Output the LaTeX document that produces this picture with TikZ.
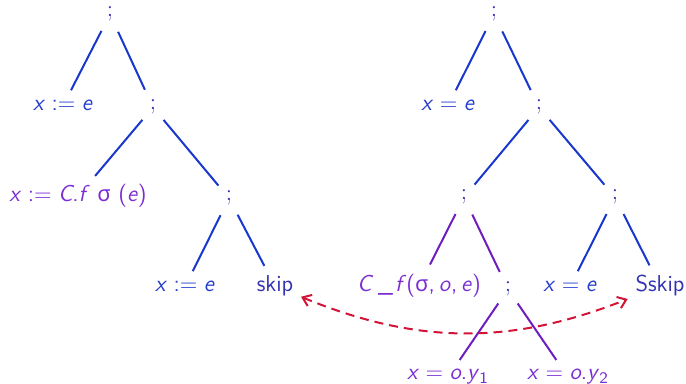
\documentclass[tikz,border=0pt]{standalone}
\usepackage{fontspec}
\usetikzlibrary{arrows.meta}
\newfontfamily\grk{Noto Sans}[Scale=0.95]
\definecolor{lineblue}{RGB}{25,55,205}
\definecolor{txtblue}{RGB}{35,60,205}
\definecolor{struct}{RGB}{51,51,178}
\definecolor{txtpurple}{RGB}{122,45,210}
\definecolor{linepurple}{RGB}{110,30,190}
\definecolor{arrred}{RGB}{210,20,55}
\newcommand\rl[1]{\hspace{0.28em}#1\hspace{0.28em}}
\newcommand\vi[1]{\textit{#1}}
\newcommand\sg{{\grk σ}}
\newcommand\cm{,\hspace{0.17em}}
\begin{document}
\begin{tikzpicture}[x=0.5pt,y=-0.5pt,
  every node/.style={font=\fontsize{11.5}{14}\selectfont\sffamily, inner sep=0pt, anchor=base},
  semi/.style={text=struct, font=\fontsize{11.5}{14}\selectfont\rmfamily},
  bl/.style={text=txtblue},
  st/.style={text=struct},
  pu/.style={text=txtpurple},
  eb/.style={draw=lineblue, line width=1pt, shorten <=5.5pt, shorten >=5.5pt},
  ep/.style={draw=linepurple, line width=1pt, shorten <=5.5pt, shorten >=5.5pt},
  link/.style={draw=arrred, line width=1pt, dash pattern=on 4.5pt off 3pt, {Straight Barb[length=4pt,width=6pt]}-{Straight Barb[length=4pt,width=6pt]}, shorten <=4pt, shorten >=4pt}
]
\useasboundingbox (0,0) rectangle (686,384);
% left tree
\node[semi] (L0) at (110,17) {;};
\node[bl] (L1a) at (63,111) {\vi{x}\rl{:=}\vi{e}};
\node[semi] (L1b) at (153,110) {;};
\node[pu] (L2a) at (78,202) {\vi{x}\rl{:=}\vi{C}.\vi{f}\ \sg\ (\vi{e})};
\node[semi] (L2b) at (229,201) {;};
\node[bl] (L3a) at (185,292) {\vi{x}\rl{:=}\vi{e}};
\node[st] (L3b) at (275,292) {skip};
% right tree
\node[semi] (R0) at (494,17) {;};
\node[bl] (R1a) at (448,111) {\vi{x}\rl{=}\vi{e}};
\node[semi] (R1b) at (539,110) {;};
\node[semi] (R2a) at (464,200) {;};
\node[semi] (R2b) at (615,200) {;};
\node[pu] (R3a) at (419,292) {\vi{C}\hspace{0.2em}\_\hspace{0.1em}\vi{f}(\sg\cm\vi{o}\cm\vi{e})};
\node[semi] (R3b) at (508,292) {;};
\node[bl] (R3c) at (570,292) {\vi{x}\rl{=}\vi{e}};
\node[st] (R3d) at (660,292) {Sskip};
\node[pu] (R4a) at (448,380) {\vi{x}\rl{=}\vi{o}.\vi{y}\textsubscript{1}};
\node[pu] (R4b) at (568,380) {\vi{x}\rl{=}\vi{o}.\vi{y}\textsubscript{2}};
% edges
\path[eb] (L0) -- (L1a);
\path[eb] (L0) -- (L1b);
\path[eb] (L1b) -- (L2a);
\path[eb] (L1b) -- (L2b);
\path[eb] (L2b) -- (L3a);
\path[eb] (L2b) -- (L3b);
\path[eb] (R0) -- (R1a);
\path[eb] (R0) -- (R1b);
\path[eb] (R1b) -- (R2a);
\path[eb] (R1b) -- (R2b);
\path[ep] (R2a) -- (R3a);
\path[ep] (R2a) -- (R3b);
\path[eb] (R2b) -- (R3c);
\path[eb] (R2b) -- (R3d);
\path[ep] (R3b) -- (R4a);
\path[ep] (R3b) -- (R4b);
\path[link] (L3b) to[bend right=22] (R3d);
\end{tikzpicture}
\end{document}
